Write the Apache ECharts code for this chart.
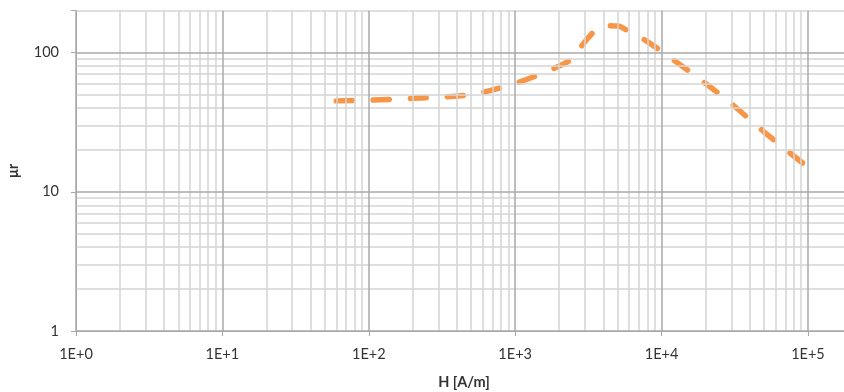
<!DOCTYPE html>
<html>
	<head>
		<meta charset="utf-8">
		<title></title>
		<style type="text/css">
			html,body{margin:0;padding:0;background:#fff;}
			#main{
				width: 844px;
				height: 392px;
			}
		</style>
	</head>
	<body>
		<div id="main"></div>
	</body>
<script src="https://cdn.jsdelivr.net/npm/echarts@6/dist/echarts.min.js" type="text/javascript" charset="utf-8"></script>
<script type="text/javascript">
	// H [A/m] and relative permeability
	var hValues = [60, 100, 200, 500, 1000, 2000, 2500, 3000, 4000, 5000, 6000, 8000, 10000, 20000, 30000, 50000, 100000];
	var muValues = [45, 45.5, 47, 50, 60, 80, 92, 120, 156, 155, 142, 120, 102, 60, 43, 27, 15];

	// grid lines (major = decades, minor = 2..9 within each decade)
	var xMajor = [1, 10, 100, 1000, 10000, 100000];
	var yMajor = [1, 10, 100];
	var xMinor = [];
	var yMinor = [];
	for (var i = 0; i < 5; i++) {
		for (var k = 2; k <= 9; k++) xMinor.push(k * xMajor[i]);
	}
	xMinor.push(200000);
	for (var j = 0; j < 2; j++) {
		for (var k = 2; k <= 9; k++) yMinor.push(k * yMajor[j]);
	}
	yMinor.push(200);

	var lines = [];
	xMinor.forEach(function (v) { lines.push({ xAxis: v, lineStyle: { color: '#d4d4d4' } }); });
	yMinor.forEach(function (v) { lines.push({ yAxis: v, lineStyle: { color: '#d4d4d4' } }); });
	xMajor.forEach(function (v) { lines.push({ xAxis: v, lineStyle: { color: '#a9a9a9' } }); });
	yMajor.forEach(function (v) { lines.push({ yAxis: v, lineStyle: { color: '#a9a9a9' } }); });

	function isPow10(v) {
		var e = Math.log10(v);
		return Math.abs(e - Math.round(e)) < 1e-6;
	}

	var myChart = echarts.init(document.getElementById('main'));
	var font = 'Lato, "Open Sans", sans-serif';

	var option = {
		animation: false,
		grid: { left: 76, right: -8, top: 10.7, bottom: 61, outerBoundsMode: 'none', containLabel: false },
		xAxis: {
			type: 'log',
			logBase: 10,
			min: 1,
			max: 200000,
			name: 'H [A/m]',
			nameLocation: 'middle',
			nameGap: 44,
			nameTextStyle: { fontFamily: font, fontSize: 14.5, fontWeight: 'bold', color: '#333' },
			axisLine: { lineStyle: { color: '#a6a6a6', width: 1 } },
			axisTick: { show: true, length: 5, lineStyle: { color: '#a6a6a6' } },
			axisLabel: {
				margin: 16,
				fontFamily: font,
				fontSize: 14.5,
				color: '#333',
				formatter: function (v) {
					return isPow10(v) ? '1E+' + Math.round(Math.log10(v)) : '';
				}
			},
			splitLine: { show: false }
		},
		yAxis: {
			type: 'log',
			logBase: 10,
			min: 1,
			max: 200,
			name: 'μr',
			nameLocation: 'middle',
			nameGap: 55,
			nameTextStyle: { fontFamily: font, fontSize: 14.5, fontWeight: 'bold', color: '#333' },
			axisLine: { show: true, lineStyle: { color: '#a6a6a6', width: 1 } },
			axisTick: { show: true, length: 5, lineStyle: { color: '#a6a6a6' } },
			axisLabel: {
				margin: 17,
				fontFamily: font,
				fontSize: 14.5,
				color: '#333',
				formatter: function (v) {
					return isPow10(v) ? String(Math.round(v)) : '';
				}
			},
			splitLine: { show: false }
		},
		series: [
			{
				type: 'line',
				data: [],
				z: 1,
				silent: true,
				markLine: {
					silent: true,
					symbol: 'none',
					animation: false,
					label: { show: false },
					lineStyle: { type: 'solid', width: 1.5 },
					data: lines
				}
			},
			{
				type: 'line',
				z: 3,
				smooth: 0.3,
				showSymbol: false,
				data: hValues.map(function (h, i) { return [h, muValues[i]]; }),
				lineStyle: {
					color: '#f79646',
					width: 5.5,
					type: [16, 21],
					cap: 'round'
				}
			}
		]
	};

	option && myChart.setOption(option);
</script>
</html>
